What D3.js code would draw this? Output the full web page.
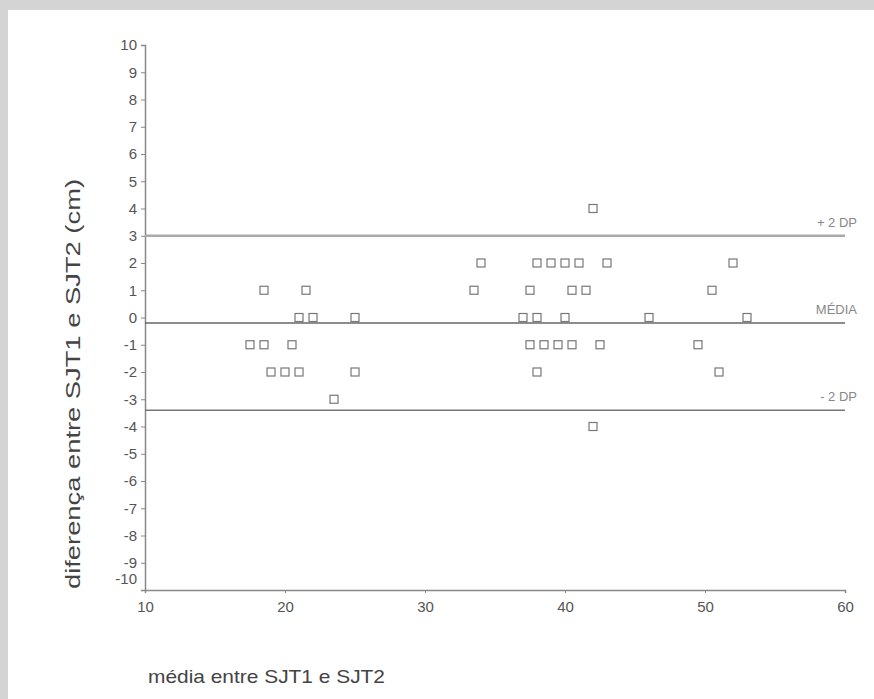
<!DOCTYPE html>
<html>
<head>
<meta charset="utf-8">
<script src="https://cdn.jsdelivr.net/npm/d3@7"></script>
<style>
  body { margin: 0; background: #d4d4d4; }
  svg { display: block; }
  text { font-family: "Liberation Sans", Arial, sans-serif; }
</style>
</head>
<body>
<svg width="874" height="699"></svg>
<script>
// media (x) e diferenca (y) entre SJT1 e SJT2
var mediaX = [18.5, 21.5, 21, 22, 25, 17.5, 18.5, 20.5, 19, 20, 21, 25, 23.5,
              42, 34, 38, 39, 40, 41, 43, 52, 33.5, 37.5, 40.5, 41.5, 50.5,
              37, 38, 40, 46, 53, 37.5, 38.5, 39.5, 40.5, 42.5, 49.5, 38, 51, 42];
var difY   = [1, 1, 0, 0, 0, -1, -1, -1, -2, -2, -2, -2, -3,
              4, 2, 2, 2, 2, 2, 2, 2, 1, 1, 1, 1, 1,
              0, 0, 0, 0, 0, -1, -1, -1, -1, -1, -1, -2, -2, -4];

var refLines  = [3.0, -0.2, -3.4];
var refLabels = ["+ 2 DP", "MÉDIA", "- 2 DP"];

var xTicks = [10, 20, 30, 40, 50, 60];
var yTicks = d3.range(-10, 11);

var svg = d3.select("svg");

svg.append("rect")
    .attr("x", 8).attr("y", 10)
    .attr("width", 866).attr("height", 689)
    .attr("fill", "#fff");

var x = d3.scaleLinear().domain([10, 60]).range([145, 845]);
var y = d3.scaleLinear().domain([-10, 10]).range([590, 45]);

// eixos (hífen simples como sinal de menos, igual ao original)
var fmt = function (d) { return String(d); };

var xAxis = svg.append("g")
    .attr("transform", "translate(0,590)")
    .call(d3.axisBottom(x).tickValues(xTicks).tickFormat(fmt).tickSize(3).tickPadding(8));

var yAxis = svg.append("g")
    .attr("transform", "translate(145,0)")
    .call(d3.axisLeft(y).tickValues(yTicks).tickFormat(fmt).tickSize(4).tickPadding(4));

[xAxis, yAxis].forEach(function (g) {
    g.select(".domain").attr("stroke", "#888").attr("stroke-width", 1.5);
    g.selectAll(".tick line").attr("stroke", "#888");
    g.selectAll(".tick text")
        .attr("fill", "#555")
        .style("font-size", "15px")
        .style("font-family", "'Liberation Sans', Arial, sans-serif");
});

// o rótulo -10 fica um pouco acima no original
yAxis.selectAll(".tick text")
    .filter(function (d) { return d === -10; })
    .attr("dy", "-0.45em");

// linhas de referência
var lineColors = ["#aaa", "#666", "#777"];
var lineWidths = [2.5, 1.5, 1.5];
refLines.forEach(function (v, i) {
    svg.append("line")
        .attr("x1", x(10)).attr("x2", x(60))
        .attr("y1", y(v)).attr("y2", y(v))
        .attr("stroke", lineColors[i])
        .attr("stroke-width", lineWidths[i]);
    svg.append("text")
        .attr("x", 857)
        .attr("y", y(v) - 9)
        .attr("text-anchor", "end")
        .attr("fill", "#888")
        .style("font-size", "13px")
        .text(refLabels[i]);
});

// pontos
var pts = mediaX.map(function (d, i) { return {x: d, y: difY[i]}; });
svg.selectAll(".pt")
    .data(pts)
    .enter().append("rect")
    .attr("class", "pt")
    .attr("x", function (d) { return x(d.x) - 4; })
    .attr("y", function (d) { return y(d.y) - 4; })
    .attr("width", 8)
    .attr("height", 8)
    .attr("fill", "#fff")
    .attr("stroke", "#777")
    .attr("stroke-width", 1.2);

// títulos
svg.append("text")
    .attr("transform", "translate(80,384) rotate(-90)")
    .attr("text-anchor", "middle")
    .attr("fill", "#444")
    .attr("textLength", 410)
    .attr("lengthAdjust", "spacingAndGlyphs")
    .style("font-size", "21px")
    .text("diferença entre SJT1 e SJT2 (cm)");

svg.append("text")
    .attr("x", 148)
    .attr("y", 683)
    .attr("fill", "#444")
    .attr("textLength", 237)
    .attr("lengthAdjust", "spacingAndGlyphs")
    .style("font-size", "19px")
    .text("média entre SJT1 e SJT2");
</script>
</body>
</html>
